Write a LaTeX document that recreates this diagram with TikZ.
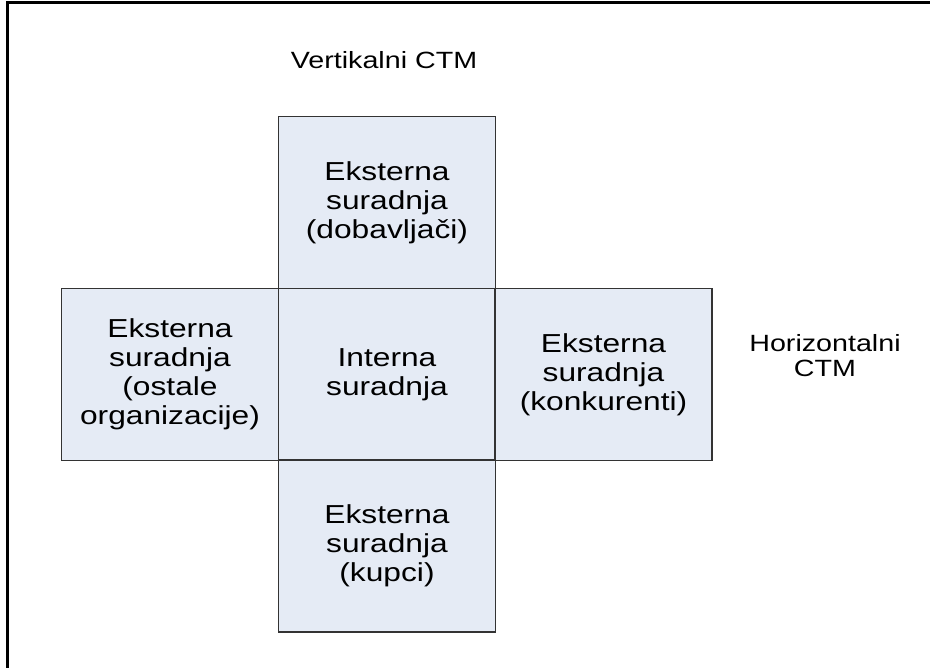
\documentclass[tikz,border=0pt]{standalone}
\usepackage{fontspec}
\setmainfont{Liberation Sans}
\newfontfamily\boxfont[FakeStretch=1.22]{Liberation Sans}
\definecolor{boxfill}{HTML}{E5EBF5}
\definecolor{boxedge}{HTML}{333333}
\begin{document}
\begin{tikzpicture}[x=1pt,y=-1pt,
  cell/.style={draw=boxedge, line width=1.1pt, fill=boxfill, rectangle,
    minimum width=217pt, minimum height=172pt, inner sep=0pt,
    text width=214pt, align=center,
    font=\boxfont\fontsize{26}{29}\selectfont},
  lab/.style={inner sep=0pt, align=center,
    font=\boxfont\fontsize{23.5}{25}\selectfont}]
\useasboundingbox (0,0) rectangle (930,668);
\fill[white] (0,0) rectangle (930,668);
\draw[line width=3pt] (7,672) -- (7,3) -- (935,3);
\node[cell] (top) at (387,202.5) {Eksterna\\suradnja\\(dobavljači)};
\node[cell] (mid) at (387,374.5) {Interna\\suradnja};
\node[cell] (left) at (170,374.5) {Eksterna\\suradnja\\(ostale\\organizacije)};
\node[cell] (right) at (603.5,374.5) {Eksterna\\suradnja\\(konkurenti)};
\node[cell] (bot) at (387,546) {Eksterna\\suradnja\\(kupci)};
\node[lab] (vlab) at (384,60) {Vertikalni CTM};
\node[lab] (hlab) at (825,356) {Horizontalni\\CTM};
\end{tikzpicture}
\end{document}
